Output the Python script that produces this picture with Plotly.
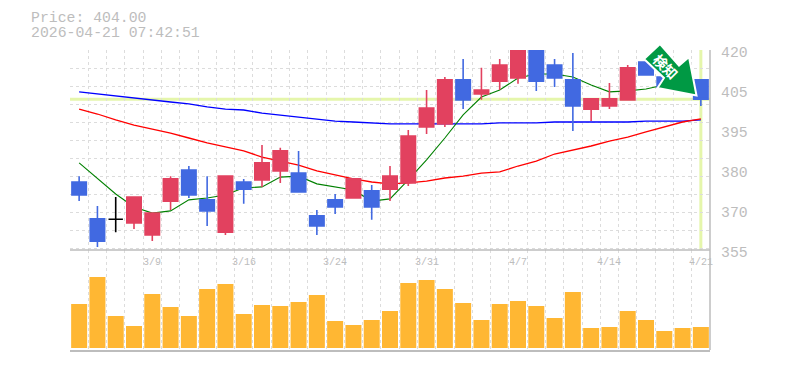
import plotly.graph_objects as go
from plotly.subplots import make_subplots

dates = ["3/3","3/4","3/5","3/6","3/9","3/10","3/11","3/12","3/13","3/16","3/17","3/18","3/19","3/23","3/24","3/25","3/26","3/27","3/30","3/31","4/1","4/2","4/3","4/6","4/7","4/8","4/9","4/10","4/13","4/14","4/15","4/16","4/17","4/20","4/21"]
opens = [377.1,365.1,365.0,363.8,359.9,370.9,381.0,371.3,360.8,377.1,377.8,380.7,380.0,366.1,371.3,371.9,374.2,374.8,376.8,395.0,396.0,410.3,405.7,409.9,410.9,420.6,415.1,410.3,400.8,401.8,403.8,416.1,411.2,411.9,410.3]
highs = [379.0,369.3,372.2,372.2,367.0,379.0,382.3,379.0,379.0,378.1,389.1,388.2,387.2,368.0,373.2,378.1,376.1,382.3,394.0,407.0,411.2,417.1,414.2,417.1,420.6,420.6,417.1,419.0,404.1,409.3,415.1,417.0,412.0,412.0,410.3]
lows = [370.9,356.0,360.8,361.8,357.9,368.0,371.9,362.8,359.9,370.0,375.5,376.8,373.9,359.9,366.7,371.9,364.8,370.9,375.8,392.7,395.0,400.8,403.8,407.0,409.0,406.7,408.0,393.7,396.9,400.8,403.8,411.9,408.0,407.0,401.8]
closes = [372.9,357.9,365.0,372.2,367.0,378.1,372.9,367.7,379.0,374.8,383.3,387.2,373.9,362.8,369.0,378.1,369.0,379.0,392.0,401.1,410.3,403.8,407.0,415.1,420.6,409.9,410.9,401.8,404.1,404.1,414.2,411.9,408.0,407.7,404.0]
ma_short = [383.3,378.4,373.2,369.0,367.0,367.7,371.3,371.9,372.9,375.2,375.5,378.7,379.0,376.5,375.5,374.5,370.9,371.6,377.8,384.3,391.4,398.9,404.7,407.0,410.9,412.2,412.2,411.2,408.6,406.4,406.7,407.3,408.6,409.6,408.6]
ma_mid = [400.8,399.2,397.3,395.6,394.3,393.0,391.4,389.8,388.5,387.2,385.2,383.9,382.6,380.7,379.4,378.1,377.1,376.5,376.8,377.4,378.4,379.0,380.0,380.4,382.3,383.9,386.2,387.5,388.8,390.4,391.7,393.4,395.0,396.6,397.6]
ma_long = [406.4,405.7,405.0,404.4,403.8,403.1,402.5,401.5,400.8,400.5,399.5,398.9,398.2,397.6,396.9,396.6,396.3,396.0,396.0,396.0,396.0,396.0,396.0,396.3,396.3,396.3,396.6,396.6,396.6,396.6,396.6,396.9,396.9,396.9,397.3]
volumes = [440,710,320,220,540,410,320,590,640,340,430,420,460,530,270,230,280,370,650,680,590,450,280,440,470,420,300,560,200,210,370,280,170,200,210]
price_labels = ["420","405","395","380","370","355"]
price_label_values = [420,407,394,381,368,355]
date_label_names = ["3/9","3/16","3/24","3/31","4/7","4/14","4/21"]
current_price = 404.00
title_lines = ["Price: 404.00","2026-04-21 07:42:51"]
badge_text = "検知"

GRAY = "#bdbdbd"
GRID = "#dcdcdc"
PALE = "#e5f6ab"
RED = "#e2415f"
BLUE = "#4169e1"
ORANGE = "#ffb733"
MONO = "Liberation Mono"

n = len(dates)
xs = list(range(n))
PAGE = 8  # the page body margin
W, H = 785 - PAGE, 370 - PAGE
L, R, T, B = 70, 710, 50, 350
px = lambda v: (v - L) / (R - L)
py = lambda v: (B - v) / (B - T)

fig = make_subplots(rows=2, cols=1, shared_xaxes=True, vertical_spacing=0, row_heights=[2, 1])

for vals, col, wd in [(ma_long, "#0000ff", 1.3), (ma_mid, "#ff0000", 1.3), (ma_short, "#008000", 1.1)]:
    fig.add_trace(go.Scatter(x=xs, y=vals, mode="lines", line=dict(color=col, width=wd), showlegend=False), row=1, col=1)

is_doji = [o == c for o, c in zip(opens, closes)]
mask = lambda arr, keep: [v if k else None for v, k in zip(arr, keep)]
regular = [not d for d in is_doji]
# candles sit on an overlaid axis pair so they cover the average lines
fig.add_trace(go.Candlestick(x=xs, open=mask(opens, regular), high=mask(highs, regular), low=mask(lows, regular), close=mask(closes, regular),
                             increasing=dict(line=dict(color=RED, width=1.6), fillcolor=RED),
                             decreasing=dict(line=dict(color=BLUE, width=1.6), fillcolor=BLUE),
                             xaxis="x3", yaxis="y3", showlegend=False))
fig.add_trace(go.Candlestick(x=xs, open=mask(opens, is_doji), high=mask(highs, is_doji), low=mask(lows, is_doji), close=mask(closes, is_doji),
                             increasing=dict(line=dict(color="#000000", width=1.6), fillcolor="#000000"),
                             decreasing=dict(line=dict(color="#000000", width=1.6), fillcolor="#000000"),
                             xaxis="x3", yaxis="y3", showlegend=False))
fig.add_trace(go.Bar(x=xs, y=volumes, width=0.875, marker=dict(color=ORANGE, line=dict(width=0)), showlegend=False), row=2, col=1)

grid_x = [i - 0.5 for i in range(n)]
axis_common = dict(range=[-0.5, n - 0.5], tickmode="array", tickvals=grid_x, showticklabels=False, ticks="",
                   showgrid=True, gridcolor=GRID, griddash="3px,3px", gridwidth=1.2, zeroline=False, rangeslider=dict(visible=False))
fig.update_xaxes(**axis_common, showline=False, row=1, col=1)
fig.update_xaxes(**axis_common, showline=True, linecolor=GRAY, linewidth=1.5, mirror=False, row=2, col=1)
fig.update_yaxes(range=[355, 420], tickmode="array", tickvals=[420 - 5.85 * k for k in range(12)], showticklabels=False, ticks="",
                 showgrid=True, gridcolor=GRID, griddash="3px,3px", gridwidth=1.2, zeroline=False, showline=False, row=1, col=1)
fig.update_yaxes(range=[-20, 980], showgrid=False, showticklabels=False, ticks="", zeroline=False,
                 showline=False, row=2, col=1)
fig.update_layout(
    xaxis3=dict(overlaying="x", anchor="y3", range=[-0.5, n - 0.5], visible=False, showgrid=False, rangeslider=dict(visible=False)),
    yaxis3=dict(overlaying="y", anchor="x3", range=[355, 420], visible=False, showgrid=False),
)

shapes = [
    dict(type="line", xref="x", yref="y", x0=-0.5, x1=n - 0.5, y0=current_price, y1=current_price, line=dict(color=PALE, width=3), layer="below"),
    dict(type="line", xref="x", yref="y", x0=n - 1, x1=n - 1, y0=355, y1=420, line=dict(color=PALE, width=3), layer="below"),
    dict(type="line", xref="paper", yref="paper", x0=0, x1=1, y0=py(250), y1=py(250), line=dict(color=GRAY, width=1.5)),
    dict(type="line", xref="paper", yref="paper", x0=1, x1=1, y0=0, y1=1, line=dict(color=GRAY, width=1.5)),
]
arrow = [(660, 44), (679, 65.5), (689, 57), (696.5, 95.5), (657.5, 88), (664, 78), (644, 59)]
path = "M " + " L ".join(f"{px(a):.4f},{py(b):.4f}" for a, b in arrow) + " Z"
shapes.append(dict(type="path", xref="paper", yref="paper", path=path, fillcolor="#009944", line=dict(color="#ffffff", width=2)))

annos = []
for txt, yy in zip(title_lines, [18, 33]):
    annos.append(dict(xref="paper", yref="paper", x=px(28.5), y=py(yy), text=txt, showarrow=False, xanchor="left", yanchor="middle",
                      font=dict(family=MONO, size=14.8, color=GRAY)))
for txt, val in zip(price_labels, price_label_values):
    annos.append(dict(xref="paper", yref="y", x=px(718.5), y=val, yshift=-3, text=txt, showarrow=False, xanchor="left", yanchor="middle",
                      font=dict(family=MONO, size=14.8, color=GRAY)))
for name in date_label_names:
    annos.append(dict(xref="x2", yref="paper", x=dates.index(name), y=py(262.5), text=name, showarrow=False, xanchor="center", yanchor="middle",
                      font=dict(family=MONO, size=10, color=GRAY)))
annos.append(dict(xref="paper", yref="paper", x=px(665.5), y=py(66), text=badge_text, showarrow=False, textangle=45, xanchor="center", yanchor="middle",
                  font=dict(family="Noto Sans CJK JP", size=14, color="#ffffff", weight="bold")))

fig.update_layout(width=W, height=H, autosize=False, margin=dict(l=L - PAGE, r=W - (R - PAGE), t=T - PAGE, b=H - (B - PAGE)), paper_bgcolor="#ffffff", plot_bgcolor="#ffffff",
                  boxgap=0.2125, boxgroupgap=0, bargap=0.125, showlegend=False, shapes=shapes, annotations=annos)
fig.write_html("out.html", config=dict(displayModeBar=False))
